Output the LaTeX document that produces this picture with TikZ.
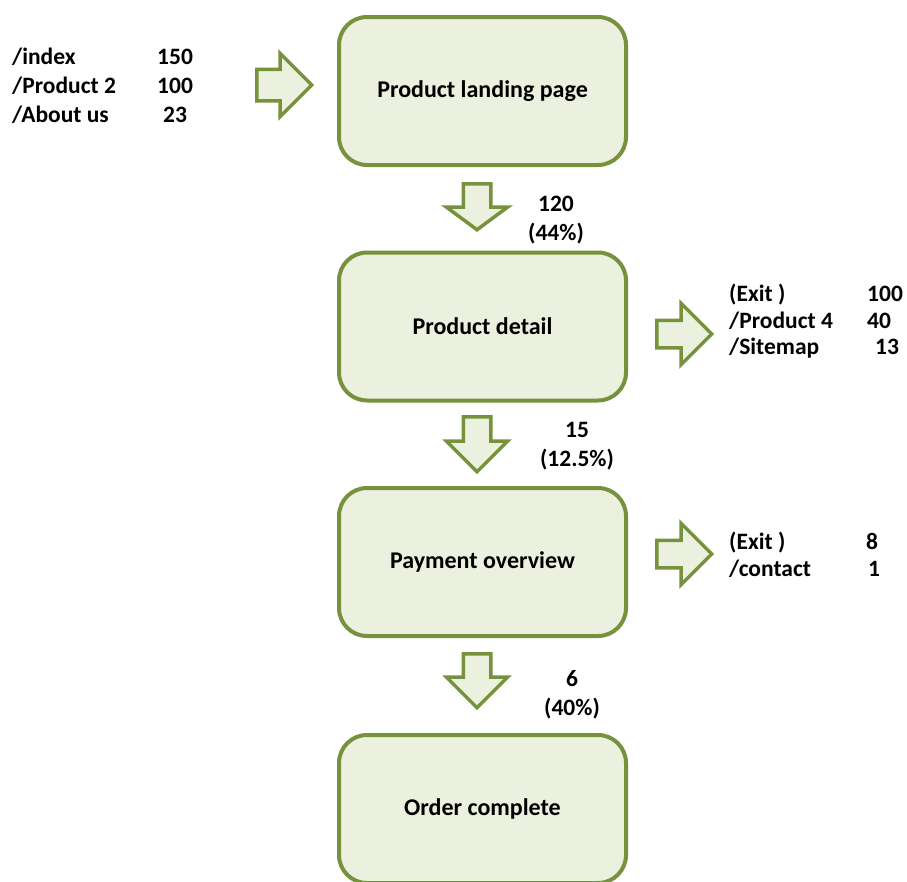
\documentclass[tikz,border=0pt]{standalone}
\usepackage{fontspec}
\setmainfont{Carlito}
\usetikzlibrary{shapes.arrows}
\definecolor{olivedark}{RGB}{118,146,60}
\definecolor{olivelight}{RGB}{235,241,222}
\begin{document}
\begin{tikzpicture}[x=1pt, y=-1pt,
    every node/.style={font=\bfseries\fontsize{23.5}{29}\selectfont, inner sep=0pt},
    pagebox/.style={rectangle, rounded corners=28pt, minimum width=287pt, minimum height=148pt, draw=olivedark, fill=olivelight, line width=4pt, font=\bfseries\fontsize{24}{29}\selectfont},
    flowarrow/.style={single arrow, anchor=tail, draw=olivedark, fill=olivelight, line width=3.5pt, inner xsep=0pt, inner ysep=12pt, single arrow head extend=17pt},
    listtext/.style={anchor=base west},
    countlabel/.style={anchor=base, align=center}]
            \useasboundingbox (0,0) rectangle (907,881);
            \clip (0,0) rectangle (907,881);
            % pages of the funnel
            \node [pagebox] (landing) at (482.5,91) {Product landing page};
            \node [pagebox] (detail) at (482.5,326.5) {Product detail};
            \node [pagebox] (payment) at (482.5,562) {Payment overview};
            \node [pagebox] (order) at (482.5,809) {Order complete};
            % block arrows
            \node [flowarrow, rotate=-90, minimum height=46pt, single arrow tip angle=107] (landtodetail) at (477,182) {};
            \node [flowarrow, rotate=-90, minimum height=55pt] (detailtopay) at (477,415) {};
            \node [flowarrow, rotate=-90, minimum height=54pt] (paytoorder) at (477,652) {};
            \node [flowarrow, inner ysep=14pt, single arrow head extend=16pt, minimum height=55pt] (entry) at (255,85) {};
            \node [flowarrow, minimum height=55pt] (detailexit) at (655,334) {};
            \node [flowarrow, minimum height=55pt] (payexit) at (655,554) {};
            % visitors passing on
            \node [countlabel] (landcount) at (556,240) {120\\(44\%)};
            \node [countlabel] (detailcount) at (577,466) {15\\(12.5\%)};
            \node [countlabel] (paycount) at (572,715) {6\\(40\%)};
            % entry sources
            \node [listtext] (srcindex) at (12,64) {/index};
            \node [listtext] (srcindexn) at (157,64) {150};
            \node [listtext] (srcprod) at (12,93) {/Product 2};
            \node [listtext] (srcprodn) at (157,93) {100};
            \node [listtext] (srcabout) at (12,122) {/About us};
            \node [listtext] (srcaboutn) at (163,122) {23};
            % leaving product detail
            \node [listtext] (dexit) at (729,301) {(Exit )};
            \node [listtext] (dexitn) at (867,301) {100};
            \node [listtext] (dprod) at (729,328) {/Product 4};
            \node [listtext] (dprodn) at (867,328) {40};
            \node [listtext] (dsite) at (729,354) {/Sitemap};
            \node [listtext] (dsiten) at (875,354) {13};
            % leaving payment overview
            \node [listtext] (pexit) at (729,549) {(Exit )};
            \node [listtext] (pexitn) at (866,549) {8};
            \node [listtext] (pcont) at (729,576) {/contact};
            \node [listtext] (pcontn) at (868,576) {1};
        \end{tikzpicture}
\end{document}
